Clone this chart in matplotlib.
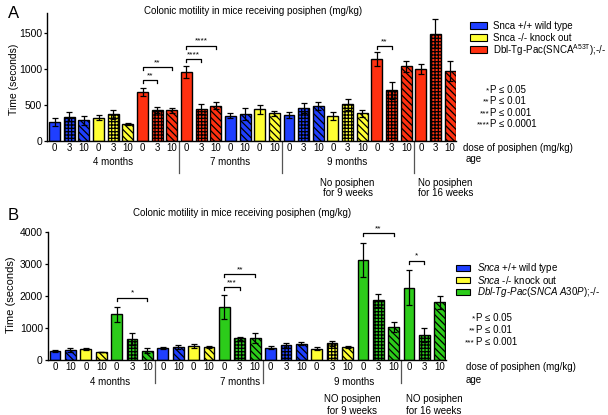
import matplotlib
matplotlib.use("Agg")
import matplotlib.pyplot as plt
from matplotlib.patches import Rectangle
from matplotlib.lines import Line2D
import matplotlib.transforms as mtrans

plt.rcParams['font.family'] = ['Liberation Sans', 'DejaVu Sans']
plt.rcParams['mathtext.fontset'] = 'custom'
plt.rcParams['mathtext.rm'] = 'Liberation Sans'
plt.rcParams['mathtext.it'] = 'Liberation Sans:italic'
plt.rcParams['hatch.linewidth'] = 0.9

W, H = 608, 415
DPI = 100

# ---------------- data ----------------
title = "Colonic motility in mice receiving posiphen (mg/kg)"

A_geno = ['wt', 'wt', 'wt', 'ko', 'ko', 'ko', 'tg', 'tg', 'tg',
          'tg', 'tg', 'tg', 'wt', 'wt', 'ko', 'ko',
          'wt', 'wt', 'wt', 'ko', 'ko', 'ko', 'tg', 'tg', 'tg',
          'tg', 'tg', 'tg']
A_dose = [0, 3, 10, 0, 3, 10, 0, 3, 10,
          0, 3, 10, 0, 10, 0, 10,
          0, 3, 10, 0, 3, 10, 0, 3, 10,
          0, 3, 10]
A_mean = [268, 338, 287, 324, 370, 236, 676, 426, 426,
          958, 444, 491, 352, 375, 440, 384,
          361, 462, 486, 343, 510, 385, 1135, 708, 1037,
          1000, 1490, 976]
A_err = [56, 60, 60, 37, 60, 9, 55, 42, 37,
         88, 74, 46, 30, 88, 60, 33,
         46, 70, 60, 55, 73, 50, 97, 118, 74,
         65, 204, 139]
A_sig = [(6, 7, '**', 847), (6, 8, '**', 1023), (9, 10, '****', 1134),
         (9, 11, '****', 1324), (22, 23, '**', 1319)]
A_yticks = [0, 500, 1000, 1500]
A_groups = [(4, '4 months'), (12, '7 months'), (20, '9 months')]
A_seps = [8.5, 15.5, 24.5]
A_legend = ['Snca +/+ wild type', 'Snca -/- knock out',
            r'Dbl-Tg-Pac(SNCA$^{\mathrm{A53T}}$);-/-']
A_plegend = [('*', 'P \u2264 0.05'), ('**', 'P \u2264 0.01'),
             ('***', 'P \u2264 0.001'), ('****', 'P \u2264 0.0001')]

B_geno = ['wt', 'wt', 'ko', 'ko', 'tg', 'tg', 'tg',
          'wt', 'wt', 'ko', 'ko', 'tg', 'tg', 'tg',
          'wt', 'wt', 'wt', 'ko', 'ko', 'ko', 'tg', 'tg', 'tg',
          'tg', 'tg', 'tg']
B_dose = [0, 10, 0, 10, 0, 3, 10,
          0, 10, 0, 10, 0, 3, 10,
          0, 3, 10, 0, 3, 10, 0, 3, 10,
          0, 3, 10]
B_mean = [281, 302, 344, 250, 1427, 656, 292,
          375, 406, 448, 417, 1656, 677, 688,
          385, 458, 510, 354, 521, 406, 3135, 1865, 1021,
          2260, 781, 1802]
B_err = [42, 63, 41, 10, 229, 177, 73,
         31, 73, 62, 31, 365, 52, 166,
         42, 73, 53, 52, 73, 42, 532, 208, 156,
         542, 229, 208]
B_sig = [(4, 6, '*', 1948), (11, 12, '***', 2271), (11, 13, '**', 2688),
         (20, 22, '**', 3958), (23, 24, '*', 3104)]
B_yticks = [0, 1000, 2000, 3000, 4000]
B_groups = [(3.6, '4 months'), (12.0, '7 months'), (19.4, '9 months')]
B_seps = [6.5, 13.5, 22.5]
B_legend = [r'$\it{Snca}$ +/+ wild type', r'$\it{Snca}$ -/- knock out',
            r'$\it{Dbl}$-$\it{Tg}$-$\it{Pac(SNCA\ A30P)}$;-/-']
B_plegend = [('*', 'P \u2264 0.05'), ('**', 'P \u2264 0.01'),
             ('***', 'P \u2264 0.001')]

colors_A = {'wt': '#1f3fff', 'ko': '#ffff33', 'tg': '#ff3010'}
colors_B = {'wt': '#1f3fff', 'ko': '#ffff33', 'tg': '#2ccc1a'}
hatches = {0: None, 3: '+++++', 10: '\\\\\\\\\\'}

fig = plt.figure(figsize=(W / DPI, H / DPI), dpi=DPI)


def fx(px):
    return px / W


def fy(py):
    return 1 - py / H


def make_axes(left, right, top, bottom):
    return fig.add_axes([fx(left), fy(bottom), (right - left) / W, (bottom - top) / H])


def draw_panel(ax, geno, dose, mean, err, colors, width, ylim, yticks, sig,
               groups, seps, axh_px, sep_len, grp_off, tick_pad):
    x = list(range(len(mean)))
    for i in x:
        ax.bar(i, mean[i], width=width, color=colors[geno[i]], edgecolor='black',
               linewidth=1.0, hatch=hatches[dose[i]], zorder=2)
    ax.errorbar(x, mean, yerr=err, fmt='none', ecolor='black', elinewidth=0.9,
                capsize=2.2, capthick=0.9, zorder=3)
    ax.set_ylim(*ylim)
    ax.set_yticks(yticks)
    ax.set_xticks(x, [str(d) for d in dose])
    ax.tick_params(axis='x', length=0, pad=tick_pad, labelsize=7)
    ax.tick_params(axis='y', length=2.5, width=0.9, labelsize=7.5, pad=1)
    for s in ['top', 'right']:
        ax.spines[s].set_visible(False)
    for s in ['left', 'bottom']:
        ax.spines[s].set_linewidth(1.0)
    trans = mtrans.blended_transform_factory(ax.transData, ax.transAxes)
    for sx in seps:
        ax.add_line(Line2D([sx, sx], [0, -sep_len / axh_px], transform=trans,
                           color='#555555', linewidth=0.9, clip_on=False))
    for gx, gt in groups:
        ax.text(gx, -grp_off / axh_px, gt, transform=trans, ha='center', va='center',
                fontsize=7)
    leg = (ylim[1] - ylim[0]) * 3.0 / axh_px
    for i, j, stars, h in sig:
        ax.plot([i, i, j, j], [h - leg, h, h, h - leg], color='black', linewidth=0.9,
                zorder=4, clip_on=False)
        ax.text((i + j) / 2, h + leg * 0.3, stars, ha='center', va='bottom',
                fontsize=6, clip_on=False)


# ---------------- panel A ----------------
axA = make_axes(47, 456, 13, 141)
axA.set_xlim(-0.52, 27.4)
draw_panel(axA, A_geno, A_dose, A_mean, A_err, colors_A, 0.75, (0, 1778), A_yticks,
           A_sig, A_groups, A_seps, 128, 32, 21, 1.2)
transA = mtrans.blended_transform_factory(axA.transData, axA.transAxes)
axA.text(20, -37 / 128, 'No posiphen\nfor 9 weeks', transform=transA, ha='center',
         va='top', fontsize=7, linespacing=1.05)
axA.text(24.8, -37 / 128, 'No posiphen\nfor 16 weeks', transform=transA, ha='left',
         va='top', fontsize=7, linespacing=1.05)

fig.text(fx(8), fy(13), 'A', fontsize=12, ha='left', va='center')
fig.text(fx(253), fy(11), title, fontsize=7, ha='center', va='center')
fig.text(fx(14), fy(79), 'Time (seconds)', rotation=90, fontsize=7.5, ha='center',
         va='center')
fig.text(fx(463), fy(148), 'dose of posiphen (mg/kg)', fontsize=7, ha='left', va='center')
fig.text(fx(466), fy(159), 'age', fontsize=7, ha='left', va='center')

for k, (g, lab) in enumerate(zip(['wt', 'ko', 'tg'], A_legend)):
    yc = 26 + k * 12
    fig.add_artist(Rectangle((fx(470), fy(yc + 3.5)), 17 / W, 7 / H,
                             facecolor=colors_A[g], edgecolor='black', linewidth=0.8,
                             transform=fig.transFigure))
    fig.text(fx(493), fy(yc), lab, fontsize=7, ha='left', va='center')
for k, (st, pt) in enumerate(A_plegend):
    yc = 90 + k * 11.3
    fig.text(fx(489.5), fy(yc + 1), st, fontsize=6, ha='right', va='center')
    fig.text(fx(490.5), fy(yc), pt, fontsize=7, ha='left', va='center')

# ---------------- panel B ----------------
axB = make_axes(47.7, 446, 232, 360)
axB.set_xlim(-0.48, 25.4)
draw_panel(axB, B_geno, B_dose, B_mean, B_err, colors_B, 0.7, (0, 4000), B_yticks,
           B_sig, B_groups, B_seps, 128, 23, 21.5, 1.2)
transB = mtrans.blended_transform_factory(axB.transData, axB.transAxes)
axB.text(19.3, -34 / 128, 'NO posiphen\nfor 9 weeks', transform=transB, ha='center',
         va='top', fontsize=7, linespacing=1.2)
axB.text(22.8, -34 / 128, 'NO posiphen\nfor 16 weeks', transform=transB, ha='left',
         va='top', fontsize=7, linespacing=1.2)

fig.text(fx(8), fy(215), 'B', fontsize=12, ha='left', va='center')
fig.text(fx(242), fy(213), title, fontsize=7, ha='center', va='center')
fig.text(fx(11), fy(295), 'Time (seconds)', rotation=90, fontsize=8, ha='center',
         va='center')
fig.text(fx(466), fy(366.7), 'dose of posiphen (mg/kg)', fontsize=7, ha='left',
         va='center')
fig.text(fx(466), fy(380), 'age', fontsize=7, ha='left', va='center')

for k, (g, lab) in enumerate(zip(['wt', 'ko', 'tg'], B_legend)):
    yc = 268 + k * 11.8
    fig.add_artist(Rectangle((fx(455.7), fy(yc + 3)), 14 / W, 6 / H,
                             facecolor=colors_B[g], edgecolor='black', linewidth=0.8,
                             transform=fig.transFigure))
    fig.text(fx(476.7), fy(yc), lab, fontsize=7, ha='left', va='center')
for k, (st, pt) in enumerate(B_plegend):
    yc = 318 + k * 12
    fig.text(fx(475), fy(yc + 1), st, fontsize=6, ha='right', va='center')
    fig.text(fx(476), fy(yc), pt, fontsize=7, ha='left', va='center')

fig.savefig('out.png', dpi=DPI)
